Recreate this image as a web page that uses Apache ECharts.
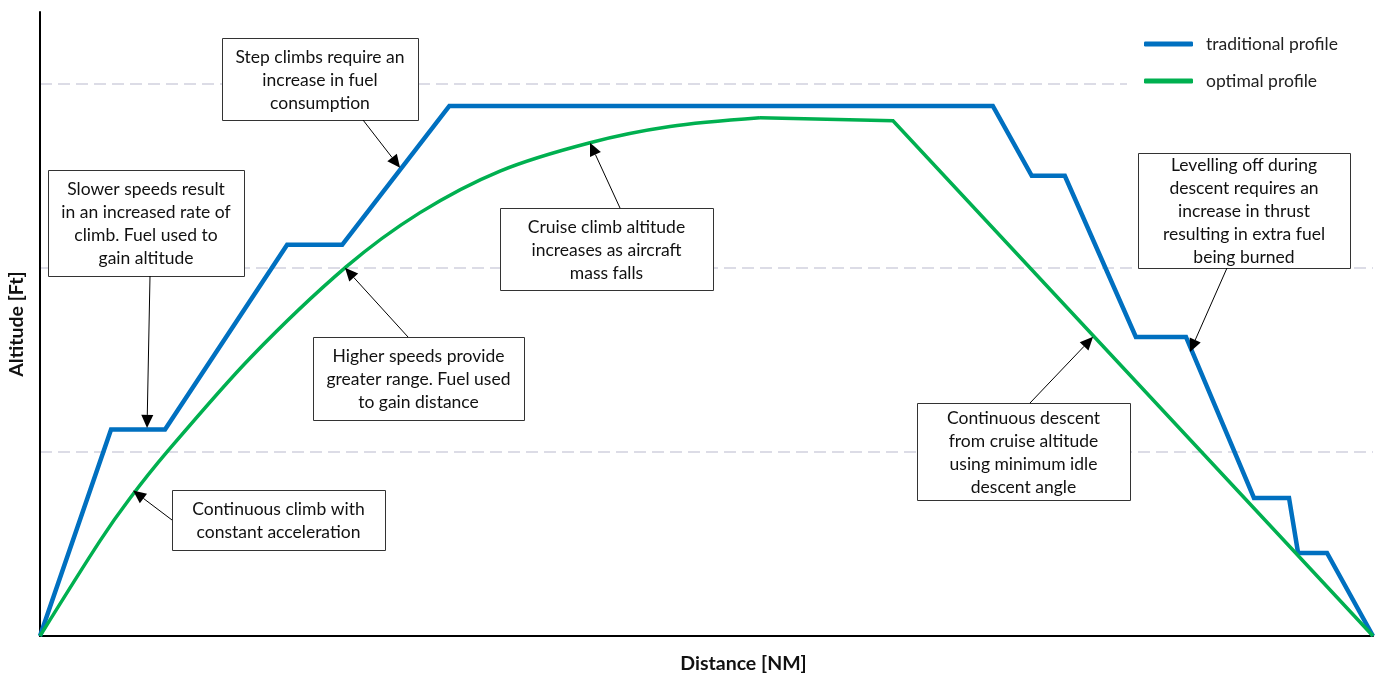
<!DOCTYPE html>
<html><head><meta charset="utf-8">
<script src="https://cdn.jsdelivr.net/npm/echarts@6/dist/echarts.min.js"></script>
<style>html,body{margin:0;padding:0;background:#fff}#c{width:1384px;height:673px}</style>
</head><body><div id="c"></div>
<script>
// ---- data ----
const seriesNames = ['traditional profile', 'optimal profile'];
const traditionalDist = [0, 53.3, 93.8, 185.4, 226.7, 307.1, 714.8, 744.0, 768.8, 822.1, 859.7, 910.7, 937.0, 943.8, 965.5, 1000];
const traditionalAlt  = [0, 11220, 11220, 21250, 21250, 28800, 28800, 25000, 25000, 16250, 16250, 7500, 7500, 4510, 4510, 0];
const optimalClimbDist = [0, 45.0, 67.5, 95.3, 157.5, 229.6, 285.1, 345.1, 412.6, 472.6, 540.1];
const optimalClimbAlt  = [0, 5170, 7480, 10000, 15090, 20050, 23000, 25260, 26800, 27680, 28150];
const optimalDescentDist = [540.1, 639.9, 1000];
const optimalDescentAlt  = [28150, 27990, 0];
const xName = 'Distance [NM]';
const yName = 'Altitude [Ft]';

// annotation texts and arrow tips (data coords)
const noteTexts = [
  'Slower speeds result\nin an increased rate of\nclimb. Fuel used to\ngain altitude',
  'Step climbs require an\nincrease in fuel\nconsumption',
  'Cruise climb altitude\nincreases as aircraft\nmass falls',
  'Higher speeds provide\ngreater range. Fuel used\nto gain distance',
  'Continuous climb with\nconstant acceleration',
  'Continuous descent\nfrom cruise altitude\nusing minimum idle\ndescent angle',
  'Levelling off during\ndescent requires an\nincrease in thrust\nresulting in extra fuel\nbeing burned'
];
const noteTipDist = [80.3, 270.1, 412.6, 228.8, 69.8, 790.0, 862.7];
const noteTipAlt  = [11305, 25436, 26795, 20001, 7900, 16251, 15435];

// ---- layout (pixels) ----
const noteBoxes = [[48,170,196,106],[222,38,196,82],[500,208,213,82],[313,337,211,83],[172,490,213,60],[917,403,213,97],[1138,153,212,115]];
const noteFrom = [[150,276],[363,120],[620,208],[408,337],[172,520],[1030,403],[1227,268]];

const zip = (a, b) => a.map((v, i) => [v, b[i]]);
const FONT = 'Lato, "Open Sans", sans-serif';
const chart = echarts.init(document.getElementById('c'));
chart.setOption({
  animation: false,
  backgroundColor: '#fff',
  grid: { left: 40, right: 11, top: 12, bottom: 37, containLabel: false, outerBoundsMode: 'none' },
  legend: {
    orient: 'vertical', left: 1127, top: 22,
    padding: [12, 41, 12, 17], backgroundColor: '#fff',
    itemWidth: 49, itemHeight: 5, itemGap: 17, icon: 'roundRect',
    data: seriesNames,
    textStyle: { fontFamily: FONT, fontSize: 17.5, lineHeight: 20, color: '#222', padding: [0, 0, 0, 8] }
  },
  xAxis: {
    type: 'value', min: 0, max: 1000,
    name: xName, nameLocation: 'middle', nameGap: 18,
    nameTextStyle: { fontFamily: FONT, fontSize: 19.5, fontWeight: 'bold', color: '#111', padding: [0, 0, 0, 74] },
    axisLine: { show: true, onZero: false, lineStyle: { color: '#000', width: 2 } },
    axisTick: { show: false }, axisLabel: { show: false }, splitLine: { show: false }
  },
  yAxis: {
    type: 'value', min: 0, max: 33900, interval: 10000,
    name: yName, nameLocation: 'middle', nameGap: 13, nameRotate: 90,
    nameTextStyle: { fontFamily: FONT, fontSize: 19.5, fontWeight: 'bold', color: '#111' },
    axisLine: { show: true, lineStyle: { color: '#000', width: 2 } },
    axisTick: { show: false }, axisLabel: { show: false },
    splitLine: { show: true, showMinLine: false, showMaxLine: false,
      lineStyle: { color: '#DCDCE6', width: 2, type: [12, 6] } }
  },
  series: [
    { name: seriesNames[0], type: 'line', data: zip(traditionalDist, traditionalAlt), symbol: 'none',
      lineStyle: { color: '#0070C0', width: 4.5, join: 'miter' }, itemStyle: { color: '#0070C0' }, z: 2 },
    { name: seriesNames[1], type: 'line', data: zip(optimalClimbDist, optimalClimbAlt), symbol: 'none',
      smooth: 0.3,
      lineStyle: { color: '#00B050', width: 3.5 }, itemStyle: { color: '#00B050' }, z: 3 },
    { name: seriesNames[1], type: 'line', data: zip(optimalDescentDist, optimalDescentAlt), symbol: 'none',
      lineStyle: { color: '#00B050', width: 3.5, join: 'miter' }, itemStyle: { color: '#00B050' }, z: 3 }
  ]
});

// ---- annotations ----
const g = [];
noteTexts.forEach((t, i) => {
  const [x, y, w, h] = noteBoxes[i];
  g.push({ type: 'rect', z: 10, shape: { x: x + 0.5, y: y + 0.5, width: w, height: h },
    style: { fill: '#fff', stroke: '#333', lineWidth: 1 } });
  g.push({ type: 'text', z: 11, x: x + w / 2, y: y + h / 2 + 1,
    style: { text: t, font: '17.5px ' + FONT, fill: '#111', align: 'center', verticalAlign: 'middle', lineHeight: 23 } });
  const tip = chart.convertToPixel({ gridIndex: 0 }, [noteTipDist[i], noteTipAlt[i]]);
  const [fx, fy] = noteFrom[i];
  const dx = tip[0] - fx, dy = tip[1] - fy, L = Math.hypot(dx, dy);
  const ux = dx / L, uy = dy / L, px = -uy, py = ux;
  const hl = 13, hw = 6;
  const bx = tip[0] - ux * hl, by = tip[1] - uy * hl;
  g.push({ type: 'line', z: 12, shape: { x1: fx, y1: fy, x2: bx, y2: by }, style: { stroke: '#000', lineWidth: 1 } });
  g.push({ type: 'polygon', z: 12, shape: { points: [[tip[0], tip[1]], [bx + px * hw, by + py * hw], [bx - px * hw, by - py * hw]] },
    style: { fill: '#000' } });
});
chart.setOption({ graphic: g });
</script>
</body></html>
